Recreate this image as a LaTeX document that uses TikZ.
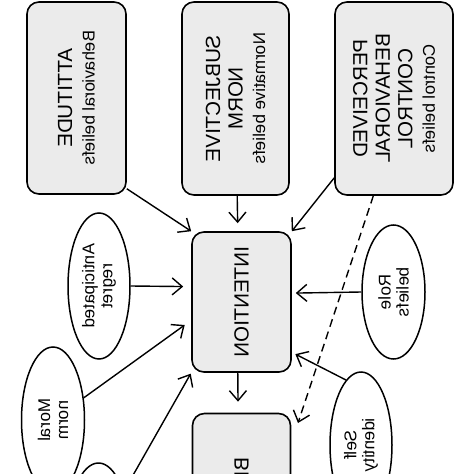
\documentclass[tikz,border=0pt]{standalone}
\usepackage{fontspec}
\setmainfont{Liberation Sans}
\usepackage{tikz}
\usetikzlibrary{shapes.geometric}
\usetikzlibrary{arrows.meta}
\definecolor{boxgray}{gray}{0.92}
\newcommand{\capsfont}{\fontsize{20.5}{22.5}\selectfont}
\newcommand{\beliefsfont}{\fontsize{17}{18}\selectfont}

\begin{document}
\begin{tikzpicture}[
x=1pt, y=1pt,
cm={0,-1,-1,0,(0,0)}, transform shape,  % Vorlage ist gedreht und gespiegelt
>={Straight Barb[length=10pt,width=17pt]},
kasten/.style={draw, line width=1.6pt, rounded corners=12pt, fill=boxgray, align=center, font=\capsfont, inner sep=0pt},
oval/.style={draw, ellipse, line width=1.5pt, align=center, font=\beliefsfont, inner sep=0pt, minimum width=146pt, minimum height=62pt},
pfeil/.style={->, line width=1.4pt}
]
\clip (0,0) rectangle (474,-474);

% Kaesten
\node[kasten, minimum width=192pt, minimum height=99pt] (att) at (98,-76.5) {ATTITUDE\\{\beliefsfont Behavioral beliefs}};
\node[kasten, minimum width=193pt, minimum height=107pt] (sn) at (98.5,-235.5) {SUBJECTIVE\\NORM\\{\beliefsfont Normative beliefs}};
\node[kasten, minimum width=193pt, minimum height=118pt] (pbc) at (98.5,-394) {PERCEIVED\\BEHAVIORAL\\CONTROL\\{\beliefsfont Control beliefs}};
\node[kasten, minimum width=140pt, minimum height=99pt] (int) at (302,-241.5) {INTENTION};
\node[kasten, minimum width=193pt, minimum height=98pt] (beh) at (510,-241.5) {BEHAVIOR};

% Ellipsen
\node[oval] (regret) at (286,-99) {Anticipated\\regret};
\node[oval, minimum height=63pt] (moral) at (420,-53) {Moral\\norm};
\node[oval] (lower) at (536,-98.5) {};
\node[oval, minimum width=134pt, minimum height=63pt] (role) at (292,-393.5) {Role\\beliefs};
\node[oval] (self) at (445,-361) {Self\\identity};

% Pfeile
\draw[pfeil] (att.-29) -- (int.north west);
\draw[pfeil, shorten >=8pt] (sn.-1.5) -- (int.177);
\draw[pfeil] (pbc.37) -- (int.south west);
\coordinate (strichende) at (423,-298);
\draw[pfeil, dash pattern=on 8pt off 5pt] (pbc.12) -- (strichende);
\draw[pfeil, shorten >=8pt] (regret.south) -- (int.107);
\draw[pfeil, shorten >=8pt] (moral) -- (int.70);
\draw[pfeil, shorten >=1pt] (lower) -- (int.north east);
\draw[pfeil, shorten >=4pt] (role.north) -- (int.-100);
\draw[pfeil, shorten >=4pt] (self.167) -- (int.-45);
\draw[pfeil, shorten >=11pt] (int.3) -- (beh.178);
\end{tikzpicture}
\end{document}
